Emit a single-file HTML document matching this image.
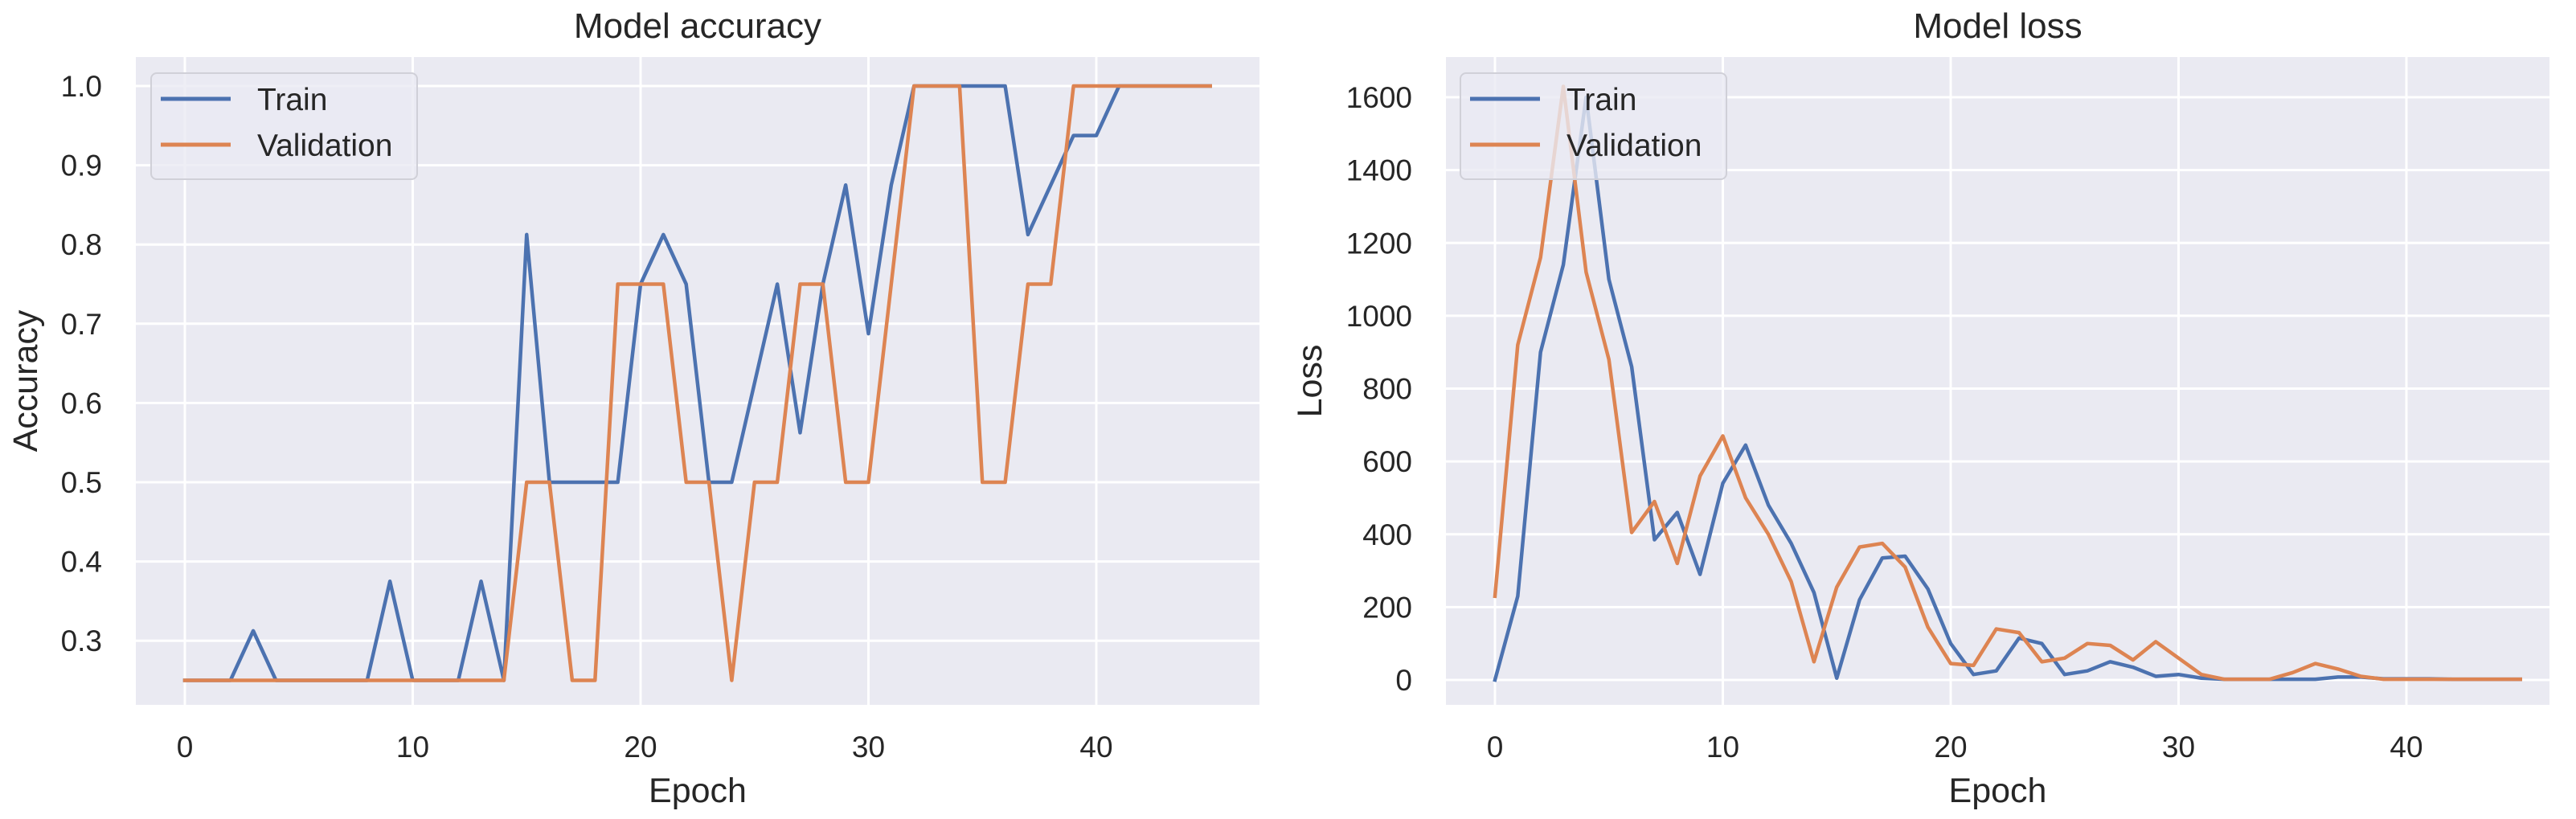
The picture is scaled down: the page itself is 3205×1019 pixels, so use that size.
<!DOCTYPE html>
<html><head><meta charset="utf-8"><style>
html,body{margin:0;padding:0;background:#fff;}
svg{display:block;font-family:"Liberation Sans",Arial,sans-serif;}
</style></head><body>
<svg id="fig" width="3205" height="1019" viewBox="0 0 3205 1019" xmlns="http://www.w3.org/2000/svg"></svg>
<script>
const epochs = Array.from({length:46},(_,i)=>i);
const accTrain = [0.25,0.25,0.25,0.3125,0.25,0.25,0.25,0.25,0.25,0.375,0.25,0.25,0.25,0.375,0.25,0.8125,0.5,0.5,0.5,0.5,0.75,0.8125,0.75,0.5,0.5,0.625,0.75,0.5625,0.75,0.875,0.6875,0.875,1,1,1,1,1,0.8125,0.875,0.9375,0.9375,1,1,1,1,1];
const accVal = [0.25,0.25,0.25,0.25,0.25,0.25,0.25,0.25,0.25,0.25,0.25,0.25,0.25,0.25,0.25,0.5,0.5,0.25,0.25,0.75,0.75,0.75,0.5,0.5,0.25,0.5,0.5,0.75,0.75,0.5,0.5,0.75,1,1,1,0.5,0.5,0.75,0.75,1,1,1,1,1,1,1];
const lossTrain = [0,230,900,1140,1600,1100,860,385,460,290,540,645,480,375,240,5,220,335,340,250,100,15,25,115,100,15,25,50,35,10,15,5,2,2,2,2,2,8,8,3,3,3,2,2,2,2];
const lossVal = [230,920,1160,1630,1120,880,405,490,320,560,670,500,400,270,50,255,365,375,310,145,45,40,140,130,50,60,100,95,55,105,60,15,2,2,2,20,45,30,10,2,2,2,2,2,2,2];
const xTicks = [0,10,20,30,40];
const accTicks = [0.3,0.4,0.5,0.6,0.7,0.8,0.9,1.0];
const lossTicks = [0,200,400,600,800,1000,1200,1400,1600];

const NS="http://www.w3.org/2000/svg";
const svg=document.getElementById('fig');
function mk(tag,attrs,parent){const e=document.createElementNS(NS,tag);for(const k in attrs)e.setAttribute(k,attrs[k]);(parent||svg).appendChild(e);return e;}

function panel(o){
  const g=mk('g',{});
  
  
  const X=v=>o.x0+(v-0)*o.xs;
  const Y=v=>o.yRef+(o.vRef-v)*o.ys;
  const bg=mk('rect',{x:o.L,y:71,width:o.R-o.L,height:806,fill:'#eaeaf2'},g);
  
  
  xTicks.forEach(t=>{
    const l=mk('line',{x1:X(t),x2:X(t),y1:71,y2:877,stroke:'#fff','stroke-width':3},g);
    
    
    const tx=mk('text',{x:X(t),y:942,'text-anchor':'middle','font-size':37,fill:'#262626'},g);
    tx.textContent=t;
    
    
  });
  o.yTicks.forEach(t=>{
    const l=mk('line',{x1:o.L,x2:o.R,y1:Y(t),y2:Y(t),stroke:'#fff','stroke-width':3},g);
    
    
    const tx=mk('text',{x:o.L-42,y:Y(t)+13,'text-anchor':'end','font-size':37,fill:'#262626'},g);
    tx.textContent=o.fmt(t);
    
    
  });
  [[o.train,'#4c72b0','train-line'],[o.val,'#dd8452','validation-line']].forEach(([d,c,n])=>{
    const p=mk('polyline',{points:d.map((v,i)=>X(epochs[i])+','+Y(v)).join(' '),fill:'none',stroke:c,'stroke-width':4.5,'stroke-linejoin':'round','stroke-linecap':'square'},g);
    
    
  });
  const t=mk('text',{x:(o.L+o.R)/2,y:47,'text-anchor':'middle','font-size':44,fill:'#262626'},g);
  t.textContent=o.title;
  
  
  const xl=mk('text',{x:(o.L+o.R)/2,y:998,'text-anchor':'middle','font-size':43,fill:'#262626'},g);
  xl.textContent='Epoch';
  
  
  const yl=mk('text',{x:o.ylx,y:474,'text-anchor':'middle','font-size':43,fill:'#262626',transform:`rotate(-90 ${o.ylx} 474)`},g);
  yl.textContent=o.ylabel;
  
  
  const lg=mk('g',{},g);
  
  
  mk('rect',{x:o.lgx,y:91,width:331,height:132,rx:7,fill:'#eaeaf2','fill-opacity':0.8,stroke:'#d0d0d8','stroke-width':2},lg);
  [['Train','#4c72b0',123],['Validation','#dd8452',180]].forEach(([s,c,y])=>{
    const e=mk('g',{},lg);
    
    
    mk('line',{x1:o.lgx+12,x2:o.lgx+99,y1:y,y2:y,stroke:c,'stroke-width':5},e);
    const tt=mk('text',{x:o.lgx+132,y:y+14,'font-size':39,fill:'#262626'},e);
    tt.textContent=s;
  });
}
panel({name:'accuracy-chart',L:169,R:1567,x0:230,xs:28.35,yRef:107,vRef:1.0,ys:986,yTicks:accTicks,fmt:v=>v.toFixed(1),train:accTrain,val:accVal,title:'Model accuracy',ylabel:'Accuracy',ylx:46,lgx:188});
panel({name:'loss-chart',L:1799,R:3172,x0:1860,xs:28.35,yRef:846,vRef:0,ys:0.4531,yTicks:lossTicks,fmt:v=>String(v),train:lossTrain,val:lossVal,title:'Model loss',ylabel:'Loss',ylx:1644,lgx:1817});
</script>
</body></html>
